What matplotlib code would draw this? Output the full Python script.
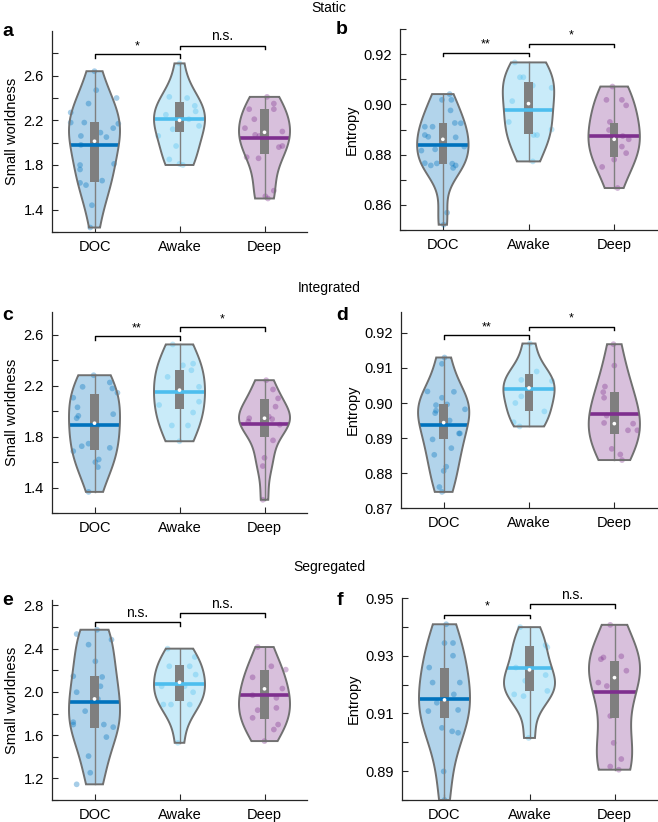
import numpy as np
import matplotlib
matplotlib.use("Agg")
import matplotlib.pyplot as plt
from matplotlib.patches import Rectangle

plt.rcParams["font.family"] = ["Liberation Sans", "DejaVu Sans"]

groups = ["DOC", "Awake", "Deep"]
colors = ["#0072BD", "#4DBEEE", "#7E2F8E"]

# ---- a: static, small worldness ----
a_doc = [2.64, 2.47, 2.40, 2.35, 2.27, 2.18, 2.18, 2.17, 2.13, 2.06, 2.05, 2.09,
         1.98, 1.80, 1.76, 1.81, 1.66, 1.64, 1.62, 1.44, 1.24]
a_doc_dx = [0.0, 0.02, 0.26, -0.07, -0.28, -0.28, -0.12, 0.28, 0.22, -0.16, 0.14, 0.07,
            -0.16, -0.17, -0.17, 0.23, 0.09, -0.17, -0.10, -0.03, -0.05]
a_awake = [2.71, 2.41, 2.40, 2.33, 2.28, 2.21, 2.15, 2.06, 1.97, 1.85, 1.81, 1.80, 2.25, 2.12]
a_awake_dx = [0.0, -0.12, 0.09, 0.18, 0.19, 0.11, 0.23, -0.25, -0.04, -0.12, 0.0, 0.04, -0.16, -0.08]
a_deep = [2.41, 2.35, 2.30, 2.30, 2.21, 2.13, 2.10, 2.07, 2.06, 1.96, 1.97, 1.87, 1.86, 1.57, 1.52, 1.50]
a_deep_dx = [0.03, 0.11, -0.18, 0.11, -0.12, -0.23, 0.21, -0.11, -0.06, 0.17, 0.21, -0.21, -0.07, 0.11, 0.01, 0.04]
a_mean = [1.978, 2.212, 2.046]
a_median = [2.013, 2.200, 2.093]
a_q1 = [1.649, 2.096, 1.900]
a_q3 = [2.182, 2.360, 2.304]
a_sig = ["*", "n.s."]
a_sig_y = [2.79, 2.87]

# ---- b: static, entropy ----
b_doc = [0.9018, 0.9018, 0.8976, 0.8911, 0.8911, 0.8926, 0.8925, 0.8878, 0.8871, 0.8869,
         0.8816, 0.8821, 0.8832, 0.8766, 0.8765, 0.8757, 0.8764, 0.8757, 0.8747, 0.8569, 0.8521, 0.9041]
b_doc_dx = [-0.01, 0.10, 0.09, -0.21, -0.12, 0.14, 0.21, -0.21, -0.17, 0.15,
            -0.25, -0.09, 0.25, -0.21, -0.07, -0.14, 0.11, 0.15, 0.12, 0.05, 0.01, 0.08]
b_awake = [0.9167, 0.9108, 0.9108, 0.9075, 0.9066, 0.9013, 0.8930, 0.8878, 0.8878, 0.8900, 0.8773]
b_awake_dx = [-0.16, -0.10, -0.06, 0.05, 0.27, -0.19, -0.23, 0.06, 0.10, 0.27, 0.05]
b_deep = [0.9071, 0.9018, 0.9018, 0.8996, 0.8930, 0.8898, 0.8874, 0.8861, 0.8832, 0.8806, 0.8780, 0.8751, 0.8667]
b_deep_dx = [-0.02, -0.09, 0.09, 0.14, -0.05, -0.06, 0.10, 0.17, 0.09, 0.14, 0.0, -0.14, 0.04]
b_mean = [0.8840, 0.8979, 0.8873]
b_median = [0.8861, 0.9003, 0.8861]
b_q1 = [0.8762, 0.8884, 0.8790]
b_q3 = [0.8926, 0.9088, 0.8926]
b_sig = ["**", "*"]
b_sig_y = [0.9206, 0.9242]

# ---- c: integrated, small worldness ----
c_doc = [2.283, 2.192, 2.226, 2.179, 2.145, 2.106, 2.031, 1.964, 1.945, 1.977,
         1.725, 1.745, 1.712, 1.686, 1.621, 1.600, 1.561, 1.366, 1.880]
c_doc_dx = [-0.01, -0.14, 0.18, 0.21, 0.27, -0.25, -0.20, -0.19, -0.21, 0.22,
            -0.15, -0.07, 0.18, -0.25, 0.05, 0.01, 0.04, -0.07, 0.03]
c_awake = [2.525, 2.361, 2.374, 2.322, 2.270, 2.192, 2.075, 2.049, 1.990, 1.888, 1.888, 1.764]
c_awake_dx = [-0.08, 0.04, 0.16, 0.14, -0.14, 0.23, 0.23, -0.24, 0.16, -0.09, 0.10, 0.0]
c_deep = [2.244, 2.171, 2.101, 2.036, 1.958, 1.945, 1.938, 1.919, 1.912, 1.894, 1.771, 1.634, 1.569, 1.304]
c_deep_dx = [0.02, 0.10, 0.16, 0.13, 0.05, -0.18, 0.09, -0.19, 0.0, 0.18, 0.10, 0.0, -0.02, -0.02]
c_mean = [1.888, 2.153, 1.901]
c_median = [1.906, 2.166, 1.945]
c_q1 = [1.699, 2.016, 1.795]
c_q3 = [2.135, 2.322, 2.094]
c_sig = ["**", "*"]
c_sig_y = [2.589, 2.659]

# ---- d: integrated, entropy ----
d_doc = [0.9112, 0.9033, 0.9032, 0.8994, 0.8978, 0.8971, 0.9015, 0.8996, 0.8982, 0.8950,
         0.8913, 0.8913, 0.8871, 0.8896, 0.8852, 0.8818, 0.8806, 0.8760, 0.8746, 0.9130]
d_doc_dx = [-0.02, -0.19, 0.12, -0.09, -0.09, -0.10, -0.02, 0.04, 0.25, 0.07,
            0.18, 0.19, 0.09, -0.13, -0.11, 0.03, 0.0, -0.05, -0.02, 0.01]
d_awake = [0.9170, 0.9066, 0.9052, 0.9063, 0.9019, 0.8976, 0.8945, 0.8933, 0.9090, 0.9000]
d_awake_dx = [0.01, -0.09, 0.01, 0.27, -0.09, 0.18, -0.18, -0.11, 0.09, -0.16]
d_deep = [0.9168, 0.9107, 0.9047, 0.9031, 0.9015, 0.8964, 0.8943, 0.8941, 0.8922, 0.8922, 0.8869, 0.8853, 0.8837]
d_deep_dx = [-0.01, 0.0, -0.11, -0.13, -0.12, -0.09, -0.12, 0.22, 0.16, 0.27, -0.03, 0.07, 0.09]
d_mean = [0.8937, 0.9040, 0.8969]
d_median = [0.8944, 0.9043, 0.8941]
d_q1 = [0.8896, 0.8978, 0.8912]
d_q3 = [0.8998, 0.9084, 0.9031]
d_sig = ["**", "*"]
d_sig_y = [0.9193, 0.9218]

# ---- e: segregated, small worldness ----
e_doc = [2.535, 2.575, 2.483, 2.437, 2.283, 2.138, 2.052, 1.997, 2.145, 1.720,
         1.698, 1.822, 1.698, 1.674, 1.582, 1.406, 1.252, 1.145, 1.935]
e_doc_dx = [-0.21, 0.03, 0.20, -0.07, 0.01, 0.09, 0.07, -0.21, -0.25, -0.25,
            -0.25, -0.11, 0.11, 0.22, 0.14, -0.07, -0.05, -0.21, 0.04]
e_awake = [2.400, 2.323, 2.237, 2.237, 2.160, 2.052, 2.052, 1.997, 1.883, 1.883, 1.883, 1.529]
e_awake_dx = [-0.14, 0.18, -0.12, 0.12, 0.19, 0.06, -0.21, 0.16, -0.10, 0.12, -0.19, -0.02]
e_deep = [2.415, 2.237, 2.206, 2.135, 2.031, 1.969, 1.945, 1.831, 1.852, 1.760, 1.698, 1.652, 1.545]
e_deep_dx = [-0.08, 0.08, 0.25, -0.14, 0.21, -0.14, 0.14, -0.08, 0.14, -0.14, 0.16, 0.11, 0.0]
e_mean = [1.908, 2.074, 1.975]
e_median = [1.935, 2.089, 2.028]
e_q1 = [1.662, 1.920, 1.745]
e_q3 = [2.145, 2.249, 2.200]
e_sig = ["n.s.", "n.s."]
e_sig_y = [2.647, 2.730]

# ---- f: segregated, entropy ----
f_doc = [0.9409, 0.9344, 0.9344, 0.9300, 0.9259, 0.9207, 0.9207, 0.9166, 0.9137, 0.9112,
         0.9108, 0.9050, 0.9038, 0.9033, 0.8899, 0.8800]
f_doc_dx = [0.02, 0.0, 0.10, 0.10, -0.18, -0.14, 0.18, 0.11, -0.09, 0.16,
            -0.19, -0.03, 0.09, 0.16, -0.01, 0.0]
f_awake = [0.9399, 0.9337, 0.9329, 0.9259, 0.9233, 0.9213, 0.9166, 0.9178, 0.9160, 0.9015]
f_awake_dx = [-0.11, 0.19, 0.21, -0.16, 0.19, -0.05, -0.18, 0.21, -0.07, -0.01]
f_deep = [0.9407, 0.9294, 0.9288, 0.9298, 0.9248, 0.9207, 0.9195, 0.9091, 0.8998, 0.8942, 0.8916, 0.8905]
f_deep_dx = [-0.05, -0.13, -0.16, 0.08, 0.14, -0.19, -0.09, -0.05, -0.01, 0.08, -0.05, 0.05]
f_mean = [0.9149, 0.9256, 0.9174]
f_median = [0.9147, 0.9251, 0.9224]
f_q1 = [0.9085, 0.9178, 0.9083]
f_q3 = [0.9257, 0.9333, 0.9283]
f_sig = ["*", "n.s."]
f_sig_y = [0.9442, 0.9478]

# axis ticks
sw_ticks_a = [1.2, 1.4, 1.6, 1.8, 2.0, 2.2, 2.4, 2.6, 2.8]
sw_labels_a = ["", "1.4", "", "1.8", "", "2.2", "", "2.6", ""]
ent_ticks_b = [0.85, 0.86, 0.87, 0.88, 0.89, 0.90, 0.91, 0.92, 0.93]
ent_labels_b = ["", "0.86", "", "0.88", "", "0.90", "", "0.92", ""]
sw_ticks_c = [1.2, 1.4, 1.6, 1.8, 2.0, 2.2, 2.4, 2.6]
sw_labels_c = ["", "1.4", "", "1.8", "", "2.2", "", "2.6"]
ent_ticks_d = [0.87, 0.88, 0.89, 0.90, 0.91, 0.92]
ent_labels_d = ["0.87", "0.88", "0.89", "0.90", "0.91", "0.92"]
sw_ticks_e = [1.0, 1.2, 1.4, 1.6, 1.8, 2.0, 2.2, 2.4, 2.6, 2.8]
sw_labels_e = ["", "1.2", "", "1.6", "", "2.0", "", "2.4", "", "2.8"]
ent_ticks_f = [0.88, 0.89, 0.90, 0.91, 0.92, 0.93, 0.94, 0.95]
ent_labels_f = ["", "0.89", "", "0.91", "", "0.93", "", "0.95"]

W, H = 658, 822
GREY = "#7f7f7f"


def kde(data):
    # normal-reference bandwidth on the MAD, like MATLAB ksdensity
    data = np.asarray(data, dtype=float)
    n = len(data)
    sig = np.median(np.abs(data - np.median(data))) / 0.6745
    bw = sig * (4.0 / (3.0 * n)) ** 0.2
    grid = np.linspace(data.min(), data.max(), 200)
    dens = np.exp(-0.5 * ((grid[:, None] - data[None, :]) / bw) ** 2).sum(axis=1)
    return grid, dens / dens.max()


def violin(ax, pos, y, dx, color, mean, med, q1, q3):
    grid, dens = kde(y)
    w = 0.3 * dens
    xs = np.concatenate([pos - w, (pos + w)[::-1]])
    ys = np.concatenate([grid, grid[::-1]])
    ax.fill(xs, ys, facecolor=color, alpha=0.3, edgecolor="none", zorder=1)
    ax.fill(xs, ys, facecolor="none", edgecolor="#707070", lw=1.4, zorder=6)
    ax.scatter(pos + np.asarray(dx), y, s=17, color=color, alpha=0.35,
               edgecolors="none", zorder=2)
    ax.plot([pos, pos], [min(y), max(y)], color=GREY, lw=1.0, zorder=3)
    ax.add_patch(Rectangle((pos - 0.05, q1), 0.1, q3 - q1, facecolor=GREY,
                           edgecolor="none", zorder=3))
    mw = 0.3 * np.interp(mean, grid, dens)
    ax.plot([pos - mw, pos + mw], [mean, mean], color=color, lw=2.6,
            solid_capstyle="butt", zorder=4)
    ax.scatter([pos], [med], s=7, color="white", edgecolors="none", zorder=7)


def bracket(ax, x0, x1, y, label, tick):
    ax.plot([x0, x0, x1, x1], [y - tick, y, y, y - tick], color="black", lw=1.0,
            zorder=7, clip_on=False)
    ax.text((x0 + x1) / 2, y + tick * 0.6, label, ha="center", va="bottom",
            fontsize=10 if label == "n.s." else 9, clip_on=False)


def make_panel(rect, datasets, stats, ylim, ticks, labels, sig, sig_y, ylabel):
    l, t, r, b = rect
    ax = fig.add_axes([l / W, 1 - b / H, (r - l) / W, (b - t) / H])
    means, meds, q1s, q3s = stats
    for i, (y, dx) in enumerate(datasets):
        violin(ax, i + 1, y, dx, colors[i], means[i], meds[i], q1s[i], q3s[i])
    ax.set_xlim(0.5, 3.5)
    ax.set_ylim(*ylim)
    ax.set_xticks([1, 2, 3])
    ax.set_xticklabels(groups)
    ax.set_yticks(ticks)
    ax.set_yticklabels(labels)
    for s in ["top", "right"]:
        ax.spines[s].set_visible(False)
    for s in ["left", "bottom"]:
        ax.spines[s].set_color("#262626")
        ax.spines[s].set_linewidth(0.9)
    ax.tick_params(direction="in", length=4, width=0.8, color="#262626",
                   labelsize=10.5, pad=6)
    ax.set_ylabel(ylabel, fontsize=10.5, labelpad=3)
    tick = (ylim[1] - ylim[0]) * 0.018
    bracket(ax, 1, 2, sig_y[0], sig[0], tick)
    bracket(ax, 2, 3, sig_y[1], sig[1], tick)
    return ax


fig = plt.figure(figsize=(W / 100, H / 100), dpi=100)

make_panel((52, 31, 307, 232), [(a_doc, a_doc_dx), (a_awake, a_awake_dx), (a_deep, a_deep_dx)],
           (a_mean, a_median, a_q1, a_q3), (1.2, 3.0), sw_ticks_a, sw_labels_a,
           a_sig, a_sig_y, "Small worldness")
make_panel((400, 29, 657, 230), [(b_doc, b_doc_dx), (b_awake, b_awake_dx), (b_deep, b_deep_dx)],
           (b_mean, b_median, b_q1, b_q3), (0.85, 0.93), ent_ticks_b, ent_labels_b,
           b_sig, b_sig_y, "Entropy")
make_panel((52, 312, 307, 513), [(c_doc, c_doc_dx), (c_awake, c_awake_dx), (c_deep, c_deep_dx)],
           (c_mean, c_median, c_q1, c_q3), (1.2, 2.78), sw_ticks_c, sw_labels_c,
           c_sig, c_sig_y, "Small worldness")
make_panel((401, 312, 657, 508), [(d_doc, d_doc_dx), (d_awake, d_awake_dx), (d_deep, d_deep_dx)],
           (d_mean, d_median, d_q1, d_q3), (0.87, 0.926), ent_ticks_d, ent_labels_d,
           d_sig, d_sig_y, "Entropy")
make_panel((52, 600, 307, 800), [(e_doc, e_doc_dx), (e_awake, e_awake_dx), (e_deep, e_deep_dx)],
           (e_mean, e_median, e_q1, e_q3), (1.0, 2.85), sw_ticks_e, sw_labels_e,
           e_sig, e_sig_y, "Small worldness")
make_panel((402, 598, 657, 800), [(f_doc, f_doc_dx), (f_awake, f_awake_dx), (f_deep, f_deep_dx)],
           (f_mean, f_median, f_q1, f_q3), (0.88, 0.95), ent_ticks_f, ent_labels_f,
           f_sig, f_sig_y, "Entropy")

# section titles and panel letters
for txt, y in [("Static", 8), ("Integrated", 288), ("Segregated", 567)]:
    fig.text(329 / W, 1 - y / H, txt, ha="center", va="center", fontsize=10)
for letter, x, y in [("a", 2, 32), ("b", 336, 30), ("c", 2, 316), ("d", 336, 315),
                     ("e", 2, 600), ("f", 337, 600)]:
    fig.text(x / W, 1 - y / H, letter, ha="left", va="center", fontsize=14,
             fontweight="bold")

fig.savefig("out.png", dpi=100)
